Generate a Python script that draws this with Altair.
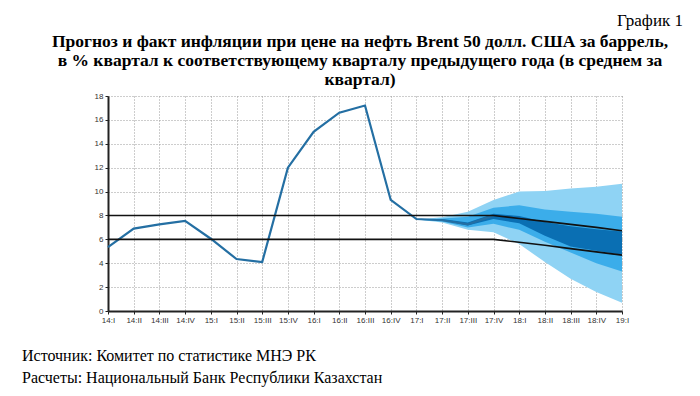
import altair as alt
import pandas as pd

quarters = ["14:I", "14:II", "14:III", "14:IV", "15:I", "15:II", "15:III", "15:IV",
            "16:I", "16:II", "16:III", "16:IV", "17:I", "17:II", "17:III", "17:IV",
            "18:I", "18:II", "18:III", "18:IV", "19:I"]
y_ticks = [0, 2, 4, 6, 8, 10, 12, 14, 16, 18]

# actual inflation (14:I .. 17:IV)
actual = [5.35, 6.9, 7.25, 7.55, 6.05, 4.35, 4.1, 12.0, 15.0, 16.6, 17.2, 9.3,
          7.7, 7.6, 7.25, 8.0]

# corridor lines (all quarters)
upper = [8, 8, 8, 8, 8, 8, 8, 8, 8, 8, 8, 8, 8, 8, 8, 8, 7.75, 7.5, 7.25, 7.0, 6.72]
lower = [6, 6, 6, 6, 6, 6, 6, 6, 6, 6, 6, 6, 6, 6, 6, 6, 5.75, 5.5, 5.22, 4.95, 4.68]

# fan chart (17:I .. 19:I)
fan_q = quarters[12:]
light_hi = [7.67, 7.85, 8.3, 9.3, 10.0, 10.05, 10.25, 10.4, 10.65]
med_hi = [7.67, 7.75, 7.9, 8.65, 8.85, 8.5, 8.3, 8.15, 7.9]
dark_hi = [7.67, 7.7, 7.4, 8.15, 7.95, 7.45, 7.1, 6.85, 6.65]
dark_lo = [7.67, 7.6, 7.15, 7.7, 7.35, 6.3, 5.4, 5.05, 4.7]
med_lo = [7.67, 7.5, 7.0, 7.3, 6.8, 5.8, 4.9, 4.0, 3.3]
light_lo = [7.67, 7.4, 6.8, 6.6, 5.6, 4.1, 2.7, 1.6, 0.7]

title_lines = [
    "Прогноз и факт инфляции при цене на нефть Brent 50 долл. США за баррель,",
    "в % квартал к соответствующему кварталу предыдущего года (в среднем за",
    "квартал)",
]
chart_no = "График 1"
source_lines = [
    "Источник: Комитет по статистике МНЭ РК",
    "Расчеты: Национальный Банк Республики Казахстан",
]

W, H = 514, 215

fan = pd.DataFrame({"q": fan_q, "lh": light_hi, "mh": med_hi, "dh": dark_hi,
                    "dl": dark_lo, "ml": med_lo, "ll": light_lo})
act = pd.DataFrame({"q": quarters[:len(actual)], "v": actual})
corr = pd.DataFrame({"q": quarters, "u": upper, "l": lower})

xs = alt.Scale(type="point", domain=quarters, padding=0)
ys = alt.Scale(domain=[0, 18], nice=False, zero=True)

x_axis = alt.Axis(title=None, labelAngle=0, labelOverlap=False)
y_axis = alt.Axis(title=None, values=y_ticks)

X = alt.X("q:N", scale=xs, axis=x_axis, sort=quarters)


def Y(f):
    return alt.Y(f, type="quantitative", scale=ys, axis=y_axis)


base_fan = alt.Chart(fan)
light = base_fan.mark_area(color="#8fd3f4", opacity=1).encode(
    x=X, y=Y("ll"), y2="lh:Q")
med = base_fan.mark_area(color="#3badea", opacity=1).encode(
    x=X, y=Y("ml"), y2="mh:Q")
dark = base_fan.mark_area(color="#0a6fb3", opacity=1).encode(
    x=X, y=Y("dl"), y2="dh:Q")

act_line = alt.Chart(act).mark_line(color="#246fa3", strokeWidth=2.2).encode(
    x=X, y=Y("v"))
up_line = alt.Chart(corr).mark_line(color="#111111", strokeWidth=1.6).encode(
    x=X, y=Y("u"))
lo_line = alt.Chart(corr).mark_line(color="#111111", strokeWidth=1.6).encode(
    x=X, y=Y("l"))


def text_layer(t, x, y, align, size, weight="normal"):
    return alt.Chart(pd.DataFrame({"t": [t]})).mark_text(
        font="Liberation Serif", fontSize=size, fontWeight=weight, align=align,
        baseline="alphabetic", color="#000000").encode(
        text="t:N", x=alt.value(x), y=alt.value(y))


texts = [
    text_layer(title_lines[0], 252, -49, "center", 17.5, "bold"),
    text_layer(title_lines[1], 252, -30, "center", 17.5, "bold"),
    text_layer(title_lines[2], 252, -11, "center", 17.5, "bold"),
    text_layer(chart_no, 575, -70, "right", 17),
    text_layer(source_lines[0], -86, 265, "left", 16),
    text_layer(source_lines[1], -86, 287, "left", 16),
]

chart = alt.layer(light, med, dark, act_line, up_line, lo_line, *texts).properties(
    width=W, height=H,
    autosize=alt.AutoSizeParams(type="none"),
    padding={"left": 100, "top": 88, "right": 70, "bottom": 77},
    background="#ffffff",
).configure_view(stroke=None).configure_axis(
    labelFont="Liberation Sans", labelFontSize=8, labelColor="#333333",
    grid=True, gridColor="#9a9a9a", gridDash=[1, 2],
    domainColor="#222222", domainWidth=2, tickColor="#222222", tickSize=3,
    labelPadding=2,
)

chart.save("out.html", embed_options={"renderer": "svg", "actions": False})
